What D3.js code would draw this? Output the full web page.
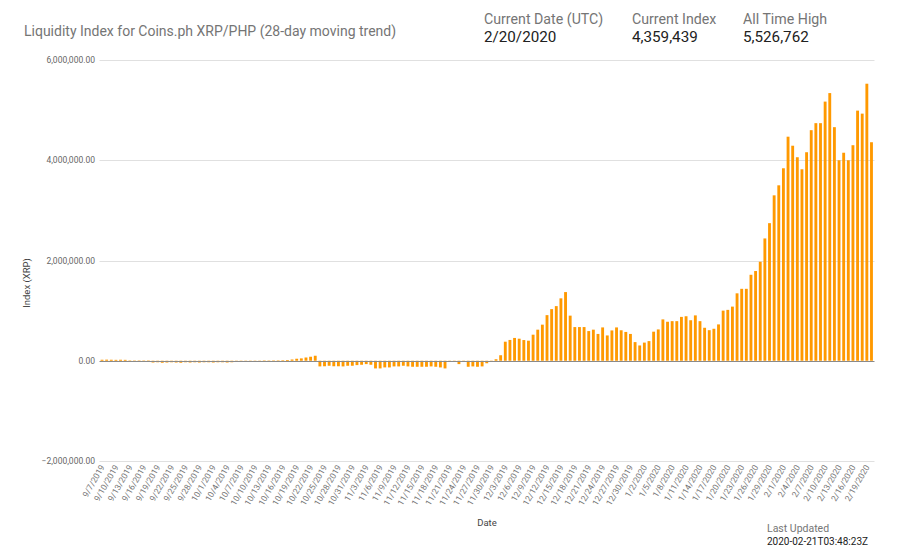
<!DOCTYPE html>
<html>
<head>
<meta charset="utf-8">
<script src="https://cdn.jsdelivr.net/npm/d3@7"></script>
<style>
  html, body { margin: 0; padding: 0; background: #fff; }
  svg { display: block; font-family: Roboto, "Noto Sans", sans-serif; }
</style>
</head>
<body>
<svg id="chart" width="900" height="554"></svg>
<script>
// ---- Data ----
const startDate = "2019-09-07";
const endDate = "2020-02-20";   // inclusive
const indexValues = [
  20000, 22000, 20000, 18000, 20000, 18000,
  3000, 2000, 3000, 2000, 3000,
  -35000, -30000, -40000, -35000, -30000, -35000, -40000, -30000, -35000,
  -30000, -35000, -30000, -30000, -35000, -30000, -30000, -35000, -30000,
  -12000, -10000, -12000, -10000, -12000, -10000,
  3000, 2000, 3000, 4000, 6000,
  15000, 25000, 40000, 47000, 65000, 80000, 100000,
  -113000, -110000, -100000, -110000,
  -110000,
  -113000, -100000, -100000, -87000, -80000, -67000, -80000, -153000, -153000,
  -133000, -133000, -113000, -113000, -100000, -113000, -120000, -120000, -120000,
  -120000, -113000, -120000, -133000, -153000,
  -5000, -5000, -67000, -5000,
  -120000, -113000, -120000, -113000,
  -50000, -3000, 30000, 110000,
  380000, 415000, 455000, 440000, 413000, 400000, 520000, 620000, 720000, 910000,
  1030000, 1090000, 1245000, 1370000, 900000, 672000, 672000, 672000, 592000, 620000,
  535000, 665000, 505000, 605000, 665000, 608000, 575000, 535000, 372000, 305000,
  362000, 392000, 580000, 625000, 825000, 778000, 790000, 790000, 875000, 888000,
  808000, 905000, 790000, 658000, 610000, 638000, 725000, 1000000, 1015000, 1080000,
  1345000, 1435000, 1435000, 1715000, 1790000, 1975000, 2440000, 2745000, 3300000, 3500000,
  3840000, 4470000, 4290000, 4060000, 3820000, 4160000, 4600000, 4740000, 4740000, 5170000,
  5340000, 4660000, 4000000, 4150000, 4000000, 4300000, 4990000, 4930000, 5526762, 4359439
];
const yTicks = [-2000000, 0, 2000000, 4000000, 6000000];
const headerLabels = ["Current Date (UTC)", "Current Index", "All Time High"];
const headerValues = ["2/20/2020", "4,359,439", "5,526,762"];
const titleText = "Liquidity Index for Coins.ph XRP/PHP (28-day moving trend)";
const lastUpdated = "2020-02-21T03:48:23Z";

// ---- Build categories ----
const parse = d3.timeParse("%Y-%m-%d");
const fmtDate = d => (d.getMonth() + 1) + "/" + d.getDate() + "/" + d.getFullYear();
const dates = d3.timeDay.range(parse(startDate), d3.timeDay.offset(parse(endDate), 1)).map(fmtDate);
const data = dates.map((d, i) => ({ date: d, value: indexValues[i] }));

const svg = d3.select("#chart");

const x = d3.scaleBand().domain(dates).range([99.7, 873.8]).paddingInner(0.382).paddingOuter(0.191);
const y = d3.scaleLinear().domain([-2000000, 6000000]).range([461, 60]);

// gridlines
svg.append("g").selectAll("line").data(yTicks.filter(t => t !== 0)).join("line")
  .attr("x1", 99.5).attr("x2", 874.5)
  .attr("y1", d => Math.round(y(d)) + 0.5).attr("y2", d => Math.round(y(d)) + 0.5)
  .attr("stroke", "#e0e0e0").attr("stroke-width", 1);

// y tick labels
svg.append("g").selectAll("text").data(yTicks).join("text")
  .attr("x", 95).attr("y", d => y(d) + 3)
  .attr("text-anchor", "end").attr("font-size", 8.5).attr("fill", "#666")
  .text(d => d3.format(",.2f")(d));

// bars
svg.append("g").selectAll("rect").data(data).join("rect")
  .attr("x", d => x(d.date))
  .attr("width", x.bandwidth())
  .attr("y", d => y(Math.max(0, d.value)))
  .attr("height", d => Math.max(0.8, Math.abs(y(d.value) - y(0))))
  .attr("fill", "#ff9900");

// baseline
svg.append("line")
  .attr("x1", 99.5).attr("x2", 874.5)
  .attr("y1", Math.round(y(0)) + 0.5).attr("y2", Math.round(y(0)) + 0.5)
  .attr("stroke", "#8a8a8a").attr("stroke-width", 1);

// x tick labels (every 3rd day)
svg.append("g").selectAll("text").data(dates.filter((d, i) => i % 3 === 0)).join("text")
  .attr("transform", d => `translate(${x(d) + x.bandwidth() / 2 + 3},${467}) rotate(-60)`)
  .attr("text-anchor", "end").attr("font-size", 8.5).attr("fill", "#777")
  .text(d => d);

// axis titles
svg.append("text").attr("x", 487).attr("y", 526).attr("text-anchor", "middle")
  .attr("font-size", 9.5).attr("fill", "#444").text("Date");
svg.append("text").attr("transform", "translate(30,283) rotate(-90)")
  .attr("text-anchor", "middle").attr("font-size", 9.5).attr("fill", "#444").text("Index (XRP)");

// title
svg.append("text").attr("x", 24).attr("y", 36).attr("font-size", 14).attr("fill", "#757575").text(titleText);

// header stats
const hx = [484, 632, 743];
headerLabels.forEach((t, i) => {
  svg.append("text").attr("x", hx[i]).attr("y", 24).attr("font-size", 14.2).attr("fill", "#757575").text(t);
  svg.append("text").attr("x", hx[i]).attr("y", 42).attr("font-size", 15.2).attr("fill", "#212121").text(headerValues[i]);
});

// last updated
svg.append("text").attr("x", 767).attr("y", 532).attr("font-size", 10.5).attr("fill", "#757575").text("Last Updated");
svg.append("text").attr("x", 767).attr("y", 545).attr("font-size", 10).attr("fill", "#212121").text(lastUpdated);
</script>
</body>
</html>
